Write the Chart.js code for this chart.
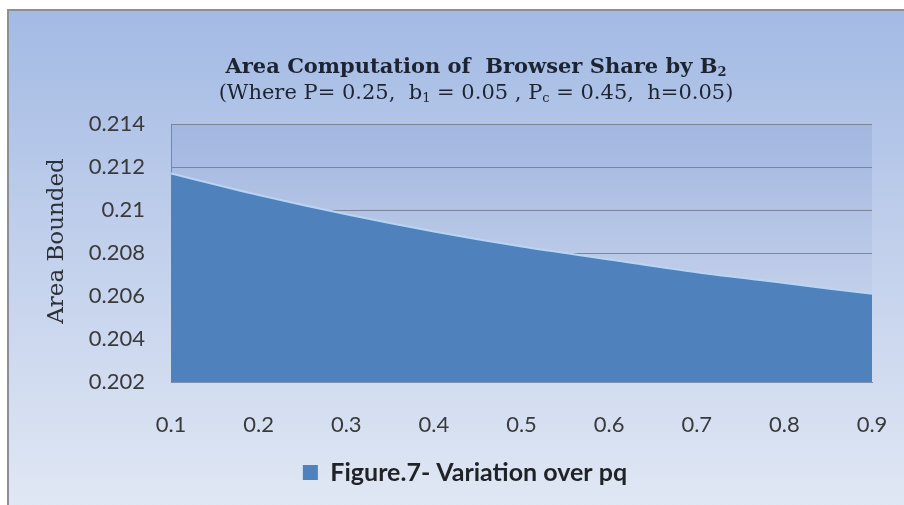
<!DOCTYPE html>
<html>
<head>
<meta charset="utf-8">
<script src="https://cdn.jsdelivr.net/npm/chart.js@4.4.1/dist/chart.umd.min.js"></script>
<style>
  html, body { margin: 0; padding: 0; background: #ffffff; }
  #wrap { width: 904px; height: 505px; position: relative; }
</style>
</head>
<body>
<div id="wrap"><canvas id="c" width="904" height="505"></canvas></div>
<script>
// ---- data ----
const categories = ['0.1', '0.2', '0.3', '0.4', '0.5', '0.6', '0.7', '0.8', '0.9'];
const areaValues = [0.2117, 0.2107, 0.2098, 0.2090, 0.2083, 0.2077, 0.2071, 0.2066, 0.2061];
const yTicks = [0.202, 0.204, 0.206, 0.208, 0.210, 0.212, 0.214];
const seriesName = 'Figure.7- Variation over pq';
const yAxisTitle = 'Area Bounded';
const titleLine1 = [{ t: 'Area Computation of  Browser Share by B' }, { t: '2', sub: true }];
const titleLine2 = [
  { t: '(Where P= 0.25,  b' }, { t: '1', sub: true }, { t: ' = 0.05 , P' }, { t: 'c', sub: true },
  { t: ' = 0.45,  h=0.05)' }
];

const SANS = "Lato, 'Open Sans', 'Liberation Sans', sans-serif";
const SERIF = "'DejaVu Serif', 'Liberation Serif', serif";

function drawRich(ctx, segs, cx, cy, size, weight) {
  const subSize = Math.round(size * 0.62);
  let w = 0;
  segs.forEach(s => {
    ctx.font = weight + ' ' + (s.sub ? subSize : size) + 'px ' + SERIF;
    s.w = ctx.measureText(s.t).width;
    w += s.w;
  });
  let x = cx - w / 2;
  ctx.textBaseline = 'alphabetic';
  ctx.textAlign = 'left';
  const base = cy + size * 0.36;
  segs.forEach(s => {
    ctx.font = weight + ' ' + (s.sub ? subSize : size) + 'px ' + SERIF;
    ctx.fillText(s.t, x, s.sub ? base + size * 0.18 : base);
    x += s.w;
  });
}

const backdrop = {
  id: 'backdrop',
  beforeDraw(chart) {
    const ctx = chart.ctx;
    const ca = chart.chartArea;
    ctx.save();
    const g = ctx.createLinearGradient(0, 10, 0, 505);
    g.addColorStop(0, '#a3bae4');
    g.addColorStop(0.5, '#c3d1ec');
    g.addColorStop(1, '#e0e7f4');
    ctx.fillStyle = g;
    ctx.fillRect(8, 10, 920, 520);
    ctx.strokeStyle = '#8c8f96';
    ctx.lineWidth = 2;
    ctx.strokeRect(8, 10, 920, 520);
    const pg = ctx.createLinearGradient(0, ca.top, 0, ca.bottom);
    pg.addColorStop(0, '#a2b6e0');
    pg.addColorStop(1, '#d2dcef');
    ctx.fillStyle = pg;
    ctx.fillRect(ca.left, ca.top, ca.right - ca.left, ca.bottom - ca.top);
    ctx.restore();
  },
  afterDraw(chart) {
    const ctx = chart.ctx;
    ctx.save();
    ctx.fillStyle = '#1c2433';
    drawRich(ctx, titleLine1, 476, 65, 21, 'bold');
    drawRich(ctx, titleLine2, 476, 91, 21, 'normal');
    ctx.translate(57, 241);
    ctx.rotate(-Math.PI / 2);
    ctx.font = 'normal 23px ' + SERIF;
    ctx.textAlign = 'center';
    ctx.textBaseline = 'middle';
    ctx.fillStyle = '#2a2f38';
    ctx.fillText(yAxisTitle, 0, 0);
    ctx.restore();
  }
};

new Chart(document.getElementById('c'), {
  type: 'line',
  data: {
    labels: categories,
    datasets: [{
      label: seriesName,
      data: areaValues,
      fill: 'start',
      backgroundColor: '#4f81bd',
      borderColor: 'rgba(185,215,248,0.95)',
      borderWidth: 2,
      pointRadius: 0,
      cubicInterpolationMode: 'monotone'
    }]
  },
  options: {
    responsive: false,
    animation: false,
    layout: { padding: { top: 124, left: 58, right: 32, bottom: 10 } },
    plugins: {
      title: { display: false },
      tooltip: { enabled: false },
      legend: {
        position: 'bottom',
        labels: {
          boxWidth: 15,
          boxHeight: 15,
          padding: 10,
          color: '#1f2226',
          font: { family: SANS, size: 25, weight: 'bold' },
          generateLabels(chart) {
            const items = Chart.defaults.plugins.legend.labels.generateLabels(chart);
            items.forEach(it => { it.strokeStyle = '#4f81bd'; it.lineWidth = 0; });
            return items;
          }
        }
      }
    },
    scales: {
      x: {
        type: 'category',
        offset: false,
        grid: { display: false, drawTicks: false },
        border: { display: true, color: '#7f90b0', width: 1 },
        ticks: { color: '#3a3a3a', padding: 30, font: { family: SANS, size: 22 }, maxRotation: 0 },
        afterFit(s) { s.height = 68; s.paddingLeft = 0; s.paddingRight = 0; }
      },
      y: {
        min: 0.202,
        max: 0.214,
        afterBuildTicks(s) { s.ticks = yTicks.map(v => ({ value: v })); },
        grid: { color: '#7d8699', lineWidth: 1, drawTicks: false },
        border: { display: true, color: '#7d8699', width: 1 },
        ticks: {
          color: '#3a3a3a',
          padding: 26,
          font: { family: SANS, size: 22 },
          callback: v => String(+v.toFixed(3))
        },
        afterFit(s) { s.width = 113; }
      }
    }
  },
  plugins: [backdrop]
});
</script>
</body>
</html>
